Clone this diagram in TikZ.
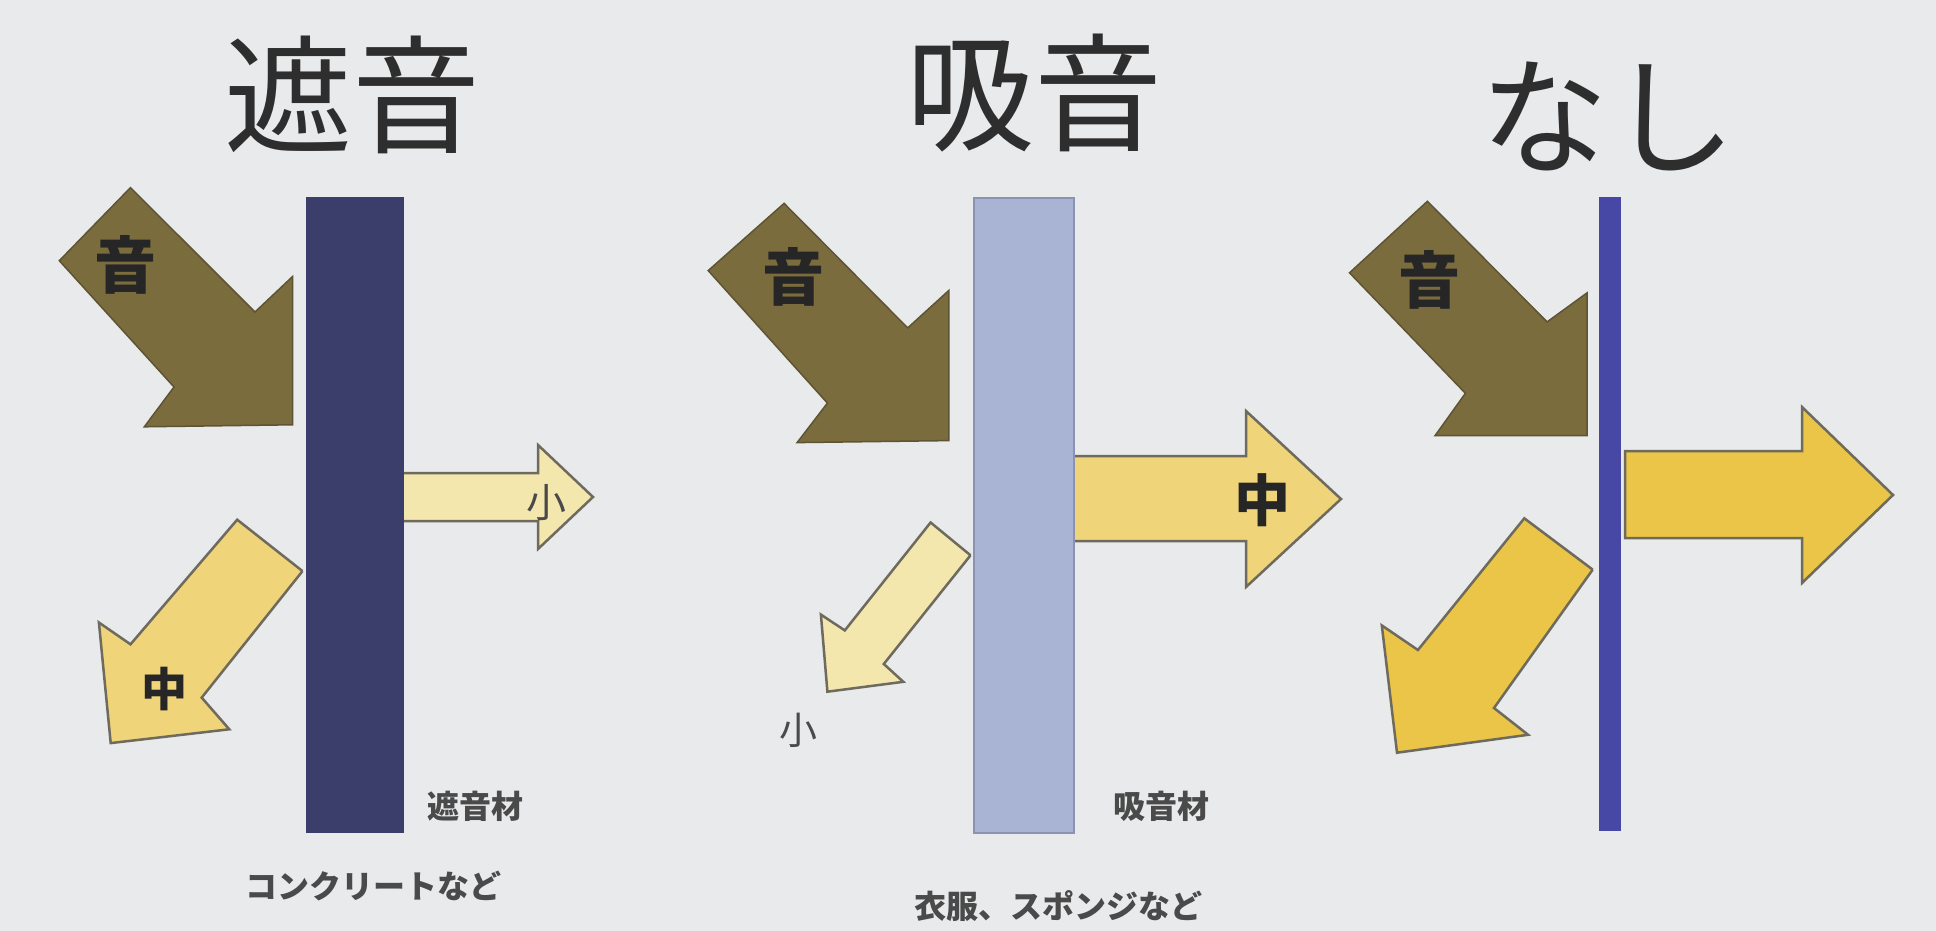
\documentclass[tikz,border=0pt]{standalone}
\usepackage{fontspec}
\newfontfamily\jp{Noto Sans CJK JP}
\definecolor{bgc}{HTML}{E8EAEB}
\definecolor{brownc}{HTML}{7B6C3E}
\definecolor{brownd}{HTML}{5E5433}
\definecolor{palec}{HTML}{F3E7AE}
\definecolor{midc}{HTML}{EFD479}
\definecolor{goldc}{HTML}{EBC547}
\definecolor{outl}{HTML}{6E6A5E}
\definecolor{navyc}{HTML}{3B3D6A}
\definecolor{lavc}{HTML}{A9B3D3}
\definecolor{lavd}{HTML}{8C93B2}
\definecolor{bluec}{HTML}{4747A6}
\definecolor{txt}{HTML}{2E2E2E}
\definecolor{lbl}{HTML}{4A4A4A}
\begin{document}
\begin{tikzpicture}[x=1pt,y=-1pt,
  brownarr/.style={fill=brownc,draw=brownd,line width=1.5pt,line join=miter},
  palearr/.style={fill=palec,draw=outl,line width=2.5pt,line join=miter},
  midarr/.style={fill=midc,draw=outl,line width=2.5pt,line join=miter},
  goldarr/.style={fill=goldc,draw=outl,line width=2.5pt,line join=miter},
  title/.style={font=\jp\fontsize{128}{128}\selectfont,text=txt,inner sep=0pt},
  intext/.style={text=black!85,inner sep=0pt},
  lab/.style={font=\jp\bfseries\fontsize{32}{32}\selectfont,text=lbl,inner sep=0pt}]
\fill[bgc] (0,0) rectangle (1936,931);
\useasboundingbox (0,0) rectangle (1936,931);

% ---------- titles
\node[title] (t1) at (352,95) {遮音};
\node[title] (t2) at (1034,93) {吸音};
\node[title] (t3) at (1608,116) {なし};

% ---------- panel 1
\draw[brownarr] (130.5,187.6) -- (255,312) -- (292.6,276.5) -- (292.6,424.8)
  -- (144.3,426.8) -- (174,387) -- (59.3,260.7) -- cycle;
\node[intext,font=\jp\bfseries\fontsize{62}{62}\selectfont] (s1) at (125,265) {音};
\draw[palearr] (400,473) -- (538,473) -- (538,445) -- (593,497) -- (538,549)
  -- (538,521) -- (400,521);
\node[intext,text=lbl,font=\jp\fontsize{40}{40}\selectfont] (r1) at (546,503) {小};
\draw[midarr] (302.5,571.1) -- (237.2,519.7) -- (130.5,644.3) -- (98.9,622.5)
  -- (110.7,743.1) -- (229.3,729.3) -- (201.7,697.6) -- (302.5,571.1);
\node[intext,font=\jp\bfseries\fontsize{46}{46}\selectfont] (f1) at (164,689) {中};
\fill[navyc] (306,197) rectangle (404,833);
\node[lab] (m1) at (475,806) {遮音材};
\node[lab] (e1) at (373,886) {コンクリートなど};

% ---------- panel 2
\draw[brownarr] (784.1,203.4) -- (907.7,327.9) -- (948.9,290.4) -- (948.9,440.6)
  -- (797.1,442.6) -- (827.4,403.1) -- (708.2,270.6) -- cycle;
\node[intext,font=\jp\bfseries\fontsize{62}{62}\selectfont] (s2) at (793,277) {音};
\draw[midarr] (1072,456) -- (1246,456) -- (1246,411) -- (1341,499) -- (1246,587)
  -- (1246,541) -- (1072,541);
\node[intext,font=\jp\bfseries\fontsize{56}{56}\selectfont] (r2) at (1262,500) {中};
\draw[palearr] (970.5,555.3) -- (930.6,522.5) -- (844.8,630.4) -- (820.9,614.6)
  -- (827.4,691.7) -- (903.3,681.8) -- (883.8,664) -- (970.5,555.3);
\node[intext,text=lbl,font=\jp\fontsize{38}{38}\selectfont] (f2) at (798,730) {小};
\filldraw[fill=lavc,draw=lavd,line width=2pt] (974,198) rectangle (1074,833);
\node[lab] (m2) at (1161,806) {吸音材};
\node[lab] (e2) at (1058,906) {衣服、スポンジなど};

% ---------- panel 3
\draw[brownarr] (1427.4,201.3) -- (1547.1,321.9) -- (1587,292.9) -- (1587,435.7)
  -- (1435,435.7) -- (1465.4,393.3) -- (1349.5,272.8) -- cycle;
\node[intext,font=\jp\bfseries\fontsize{62}{62}\selectfont] (s3) at (1429,280) {音};
\draw[goldarr] (1625,451) -- (1802,451) -- (1802,407) -- (1893,495) -- (1802,583)
  -- (1802,538) -- (1625,538) -- cycle;
\draw[goldarr] (1592.7,569.6) -- (1524.3,518.3) -- (1417.9,650) -- (1381.8,625.4)
  -- (1397,752.7) -- (1528.1,734.8) -- (1494,708) -- (1592.7,569.6);
\fill[bluec] (1599,197) rectangle (1621,831);
\end{tikzpicture}
\end{document}
